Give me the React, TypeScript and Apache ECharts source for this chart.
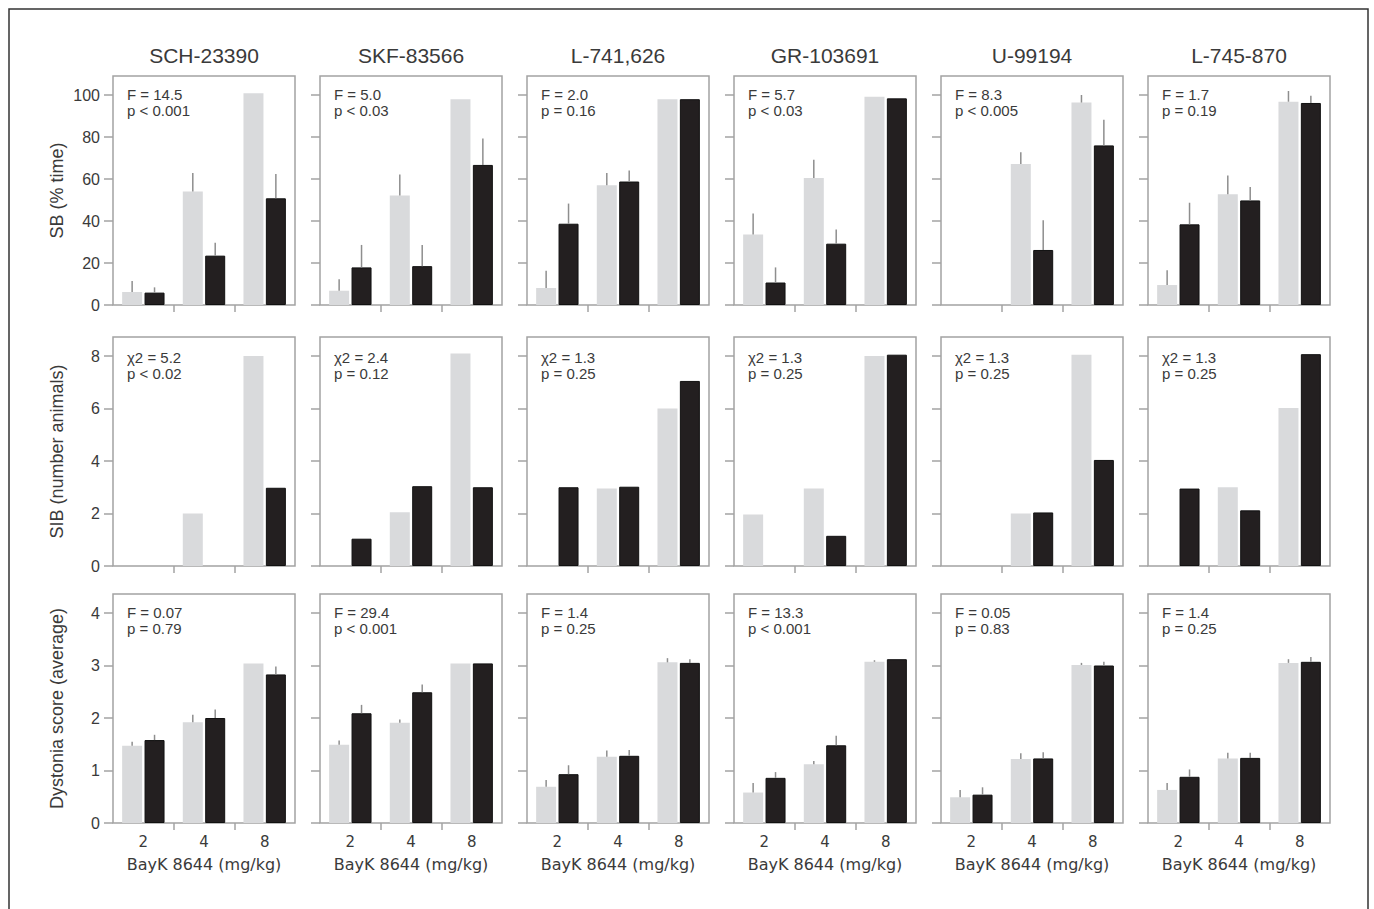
import React, { useEffect, useRef } from "react";
import * as echarts from "echarts";

const categories = ["2", "4", "8"];
const drugs = ["SCH-23390", "SKF-83566", "L-741,626", "GR-103691", "U-99194", "L-745-870"];
const rowTitles = ["SB (% time)", "SIB (number animals)", "Dystonia score (average)"];
const xTitle = "BayK 8644 (mg/kg)";

const rowTicks = [
  [0, 20, 40, 60, 80, 100],
  [0, 2, 4, 6, 8],
  [0, 1, 2, 3, 4],
];

// Row 1: SB (% time)
const sbGray = [[6.2, 54, 100.8], [6.8, 52.1, 98], [8.1, 57, 98], [33.6, 60.5, 99.2], [0, 67.1, 96.4], [9.5, 52.7, 96.8]];
const sbGrayErr = [[11.4, 62.9, null], [12.3, 62.1, null], [16.3, 62.9, null], [43.6, 69.2, null], [null, 72.7, 100], [16.6, 61.7, 101.9]];
const sbBlack = [[5.9, 23.5, 50.8], [17.9, 18.5, 66.7], [38.7, 58.8, 98], [10.7, 29.2, 98.4], [0, 26.2, 76], [38.4, 49.8, 96.2]];
const sbBlackErr = [[8.4, 29.7, 62.4], [28.6, 28.6, 79.3], [48.3, 64, null], [17.9, 36, null], [null, 40.4, 88.2], [48.7, 56.2, 99.7]];

// Row 2: SIB (number animals)
const sibGray = [[0, 2, 8], [0, 2.05, 8.1], [0, 2.95, 6], [1.96, 2.95, 8], [0, 2, 8.05], [0, 3, 6.02]];
const sibBlack = [[0, 0, 2.98], [1.04, 3.04, 3], [3, 3.02, 7.05], [0, 1.15, 8.05], [0, 2.04, 4.04], [2.95, 2.12, 8.07]];

// Row 3: Dystonia score (average)
const dysGray = [[1.47, 1.92, 3.04], [1.49, 1.91, 3.04], [0.69, 1.26, 3.06], [0.58, 1.12, 3.07], [0.49, 1.22, 3.01], [0.63, 1.23, 3.05]];
const dysGrayErr = [[1.55, 2.06, null], [1.57, 1.97, null], [0.82, 1.38, 3.14], [0.76, 1.18, 3.1], [0.63, 1.33, 3.05], [0.76, 1.34, 3.12]];
const dysBlack = [[1.58, 2.0, 2.83], [2.09, 2.49, 3.04], [0.93, 1.28, 3.05], [0.86, 1.48, 3.12], [0.54, 1.23, 3.0], [0.88, 1.24, 3.07]];
const dysBlackErr = [[1.68, 2.16, 2.98], [2.25, 2.64, null], [1.1, 1.39, 3.12], [0.97, 1.66, null], [0.68, 1.35, 3.07], [1.02, 1.34, 3.16]];

const sbStats = [["F = 14.5", "p < 0.001"], ["F = 5.0", "p < 0.03"], ["F = 2.0", "p = 0.16"], ["F = 5.7", "p < 0.03"], ["F = 8.3", "p < 0.005"], ["F = 1.7", "p = 0.19"]];
const sibStats = [["χ2 = 5.2", "p < 0.02"], ["χ2 = 2.4", "p = 0.12"], ["χ2 = 1.3", "p = 0.25"], ["χ2 = 1.3", "p = 0.25"], ["χ2 = 1.3", "p = 0.25"], ["χ2 = 1.3", "p = 0.25"]];
const dysStats = [["F = 0.07", "p = 0.79"], ["F = 29.4", "p < 0.001"], ["F = 1.4", "p = 0.25"], ["F = 13.3", "p < 0.001"], ["F = 0.05", "p = 0.83"], ["F = 1.4", "p = 0.25"]];

const rows = [
  { gray: sbGray, grayErr: sbGrayErr, black: sbBlack, blackErr: sbBlackErr, stats: sbStats },
  { gray: sibGray, grayErr: null, black: sibBlack, blackErr: null, stats: sibStats },
  { gray: dysGray, grayErr: dysGrayErr, black: dysBlack, blackErr: dysBlackErr, stats: dysStats },
];

const FONT = "'Liberation Sans', Helvetica, Arial, sans-serif";
const FONT2 = "'DejaVu Sans', Verdana, sans-serif";
const AXIS = "#a3a3a3";
const TEXT = "#3a3a3a";
const GRAY = "#d9dadc";
const BLACK = "#231f20";

export default function App() {
  const ref = useRef<HTMLDivElement>(null);

  useEffect(() => {
    if (!ref.current) return;
    const chart = echarts.init(ref.current, null, { renderer: "svg" });

    const colLeft0 = 113;
    const colStep = 207;
    const boxW = 182;
    const boxH = 229;
    const rowTops = [76, 337, 594];

    const grids: any[] = [];
    const xAxes: any[] = [];
    const yAxes: any[] = [];
    const series: any[] = [];
    const graphics: any[] = [];

    graphics.push({
      type: "rect",
      shape: { x: 9, y: 9, width: 1359, height: 920 },
      style: { fill: "none", stroke: "#333", lineWidth: 1.5 },
      silent: true,
    });

    drugs.forEach((d, c) => {
      graphics.push({
        type: "text",
        x: colLeft0 + c * colStep + boxW / 2,
        y: 55,
        style: { text: d, font: `21px ${FONT}`, fill: TEXT, textAlign: "center", textVerticalAlign: "middle" },
      });
    });

    const nz = (v: number) => (v === 0 ? null : v);

    rows.forEach((row, r) => {
      const ticks = rowTicks[r];
      const topTick = ticks[ticks.length - 1];
      const yMax = (topTick * boxH) / 210;
      drugs.forEach((_, c) => {
        const g = grids.length;
        const left = colLeft0 + c * colStep;
        const top = rowTops[r];
        grids.push({
          left,
          top,
          width: boxW,
          height: boxH,
          show: true,
          borderColor: AXIS,
          borderWidth: 1.5,
          backgroundColor: "transparent",
        });
        const lastRow = r === 2;
        xAxes.push({
          type: "category",
          gridIndex: g,
          data: categories,
          position: "bottom",
          axisLine: { show: false },
          axisTick: { show: false },
          axisLabel: {
            show: lastRow,
            margin: 11,
            fontFamily: FONT2,
            fontSize: 15,
            color: TEXT,
          },
          name: lastRow ? xTitle : "",
          nameLocation: "middle",
          nameGap: 33,
          nameTextStyle: { fontFamily: FONT2, fontSize: 16, color: TEXT },
        });
        xAxes.push({
          type: "value",
          gridIndex: g,
          min: 0,
          max: 3,
          position: "bottom",
          axisLine: { show: false },
          axisLabel: { show: false },
          splitLine: { show: false },
          axisTick: {
            show: true,
            length: 7,
            customValues: [1, 2],
            lineStyle: { color: AXIS, width: 1.5 },
          },
        });
        yAxes.push({
          type: "value",
          gridIndex: g,
          min: 0,
          max: yMax,
          axisLine: { show: false },
          splitLine: { show: false },
          axisTick: {
            show: true,
            length: 9,
            customValues: ticks,
            lineStyle: { color: AXIS, width: 1.5 },
          },
          axisLabel: {
            show: c === 0,
            customValues: ticks,
            margin: 13,
            fontFamily: FONT,
            fontSize: 16,
            color: TEXT,
          },
          name: c === 0 ? rowTitles[r] : "",
          nameLocation: "middle",
          nameRotate: 90,
          nameGap: 47,
          nameTextStyle: { fontFamily: FONT, fontSize: 18, color: TEXT },
        });
        const xi = g * 2;
        series.push({
          type: "bar",
          xAxisIndex: xi,
          yAxisIndex: g,
          data: row.gray[c].map(nz),
          barWidth: 20,
          barGap: "12%",
          itemStyle: { color: GRAY },
          silent: true,
        });
        series.push({
          type: "bar",
          xAxisIndex: xi,
          yAxisIndex: g,
          data: row.black[c].map(nz),
          barWidth: 20,
          barGap: "12%",
          itemStyle: { color: BLACK, borderColor: "#111", borderWidth: 1 },
          silent: true,
        });
        const errData: any[] = [];
        const pushErr = (vals: number[], errs: (number | null)[] | null, side: number) => {
          if (!errs) return;
          vals.forEach((v, i) => {
            const e = errs[i];
            if (e != null && e > v) errData.push([i, v, e, side]);
          });
        };
        pushErr(row.gray[c], row.grayErr ? row.grayErr[c] : null, -1);
        pushErr(row.black[c], row.blackErr ? row.blackErr[c] : null, 1);
        if (errData.length) {
          series.push({
            type: "custom",
            xAxisIndex: xi,
            yAxisIndex: g,
            data: errData,
            silent: true,
            z: 3,
            renderItem: (params: any, api: any) => {
              const ci = api.value(0);
              const v = api.value(1);
              const e = api.value(2);
              const side = api.value(3);
              const p0 = api.coord([ci, v]);
              const p1 = api.coord([ci, e]);
              const x = p0[0] + side * 11.2;
              return {
                type: "line",
                shape: { x1: x, y1: p0[1], x2: x, y2: p1[1] },
                style: { stroke: "#8e8e8e", lineWidth: 1.5 },
              };
            },
          });
        }
        graphics.push({
          type: "text",
          x: left + 14,
          y: top + (r === 1 ? 12 : 10),
          style: {
            text: row.stats[c].join("\n"),
            font: `15px ${FONT}`,
            lineHeight: 16,
            fill: TEXT,
            textAlign: "left",
            textVerticalAlign: "top",
          },
        });
      });
    });

    chart.setOption({
      animation: false,
      backgroundColor: "#ffffff",
      grid: grids,
      xAxis: xAxes,
      yAxis: yAxes,
      series,
      graphic: graphics,
    });

    return () => chart.dispose();
  }, []);

  return (
    <div
      ref={ref}
      style={{ position: "fixed", left: 0, top: 0, width: 1374, height: 909 }}
    />
  );
}
